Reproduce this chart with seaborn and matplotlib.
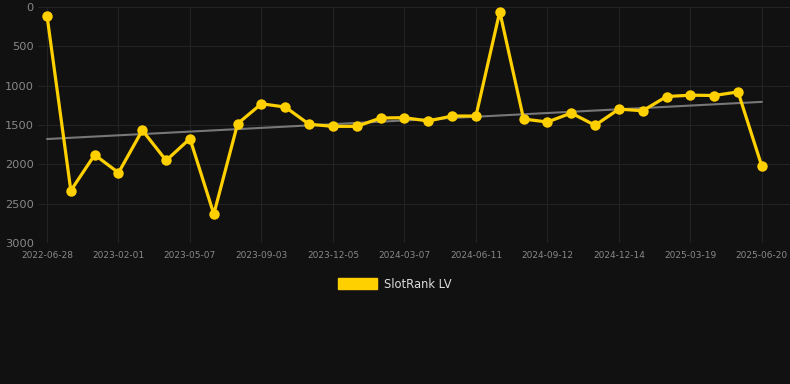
import numpy as np
import pandas as pd
import matplotlib
matplotlib.use("Agg")
import matplotlib.pyplot as plt
from matplotlib.patches import Patch
import seaborn as sns

dates = [
    "2022-06-28", "2022-09-10", "2022-11-20", "2023-02-01", "2023-03-05",
    "2023-04-06", "2023-05-07", "2023-06-15", "2023-07-25", "2023-09-03",
    "2023-10-04", "2023-11-04", "2023-12-05", "2024-01-05", "2024-02-05",
    "2024-03-07", "2024-04-08", "2024-05-10", "2024-06-11", "2024-07-12",
    "2024-08-12", "2024-09-12", "2024-10-13", "2024-11-13", "2024-12-14",
    "2025-01-14", "2025-02-15", "2025-03-19", "2025-04-19", "2025-05-20",
    "2025-06-20",
]
rank = [
    110, 2334, 1879, 2107, 1567, 1951, 1673, 2633, 1483, 1230,
    1272, 1491, 1517, 1517, 1411, 1407, 1449, 1386, 1386, 59,
    1424, 1462, 1348, 1504, 1298, 1319, 1138, 1121, 1125, 1079,
    2026,
]
series_name = "SlotRank LV"

BG = "#111111"
YELLOW = "#FFD000"

df = pd.DataFrame({"pos": np.arange(len(dates)), "date": dates, "rank": rank})

# linear trend over the points
k, b = np.polyfit(df["pos"], df["rank"], 1)
df["trend"] = k * df["pos"] + b

sns.set_theme(style="dark")
plt.rcParams["font.family"] = ["DejaVu Sans"]

fig = plt.figure(figsize=(7.9, 3.84), dpi=100, facecolor=BG)
ax = fig.add_axes([38 / 790, 141 / 384, 752 / 790, 236 / 384])
ax.set_facecolor(BG)

sns.lineplot(data=df, x="pos", y="trend", ax=ax, color="#777777", linewidth=1.5)
sns.lineplot(data=df, x="pos", y="rank", ax=ax, color=YELLOW, linewidth=2.3,
             marker="o", markersize=7.5, markeredgewidth=0, markeredgecolor=YELLOW)

ax.set_ylim(3000, 0)
ax.set_xlim(-0.378, 31.18)
ax.set_yticks(range(0, 3001, 500))
ax.set_xticks(df["pos"][::3])
ax.set_xticklabels(df["date"][::3])
ax.tick_params(axis="x", colors="#888888", labelsize=6.5, length=0, pad=6)
ax.tick_params(axis="y", colors="#888888", labelsize=8.2, length=0, pad=3)
ax.grid(True, color="#232323", linewidth=0.8)
ax.set_xlabel("")
ax.set_ylabel("")
for s in ax.spines.values():
    s.set_visible(False)

fig.legend(handles=[Patch(facecolor=YELLOW, edgecolor=YELLOW, label=series_name)],
           loc="center", bbox_to_anchor=(0.5, 1 - 284 / 384), frameon=False,
           handlelength=3.4, handleheight=1.0, fontsize=8.3, labelcolor="#dddddd",
           handletextpad=0.6)

fig.savefig("out.png", dpi=100, facecolor=BG)
